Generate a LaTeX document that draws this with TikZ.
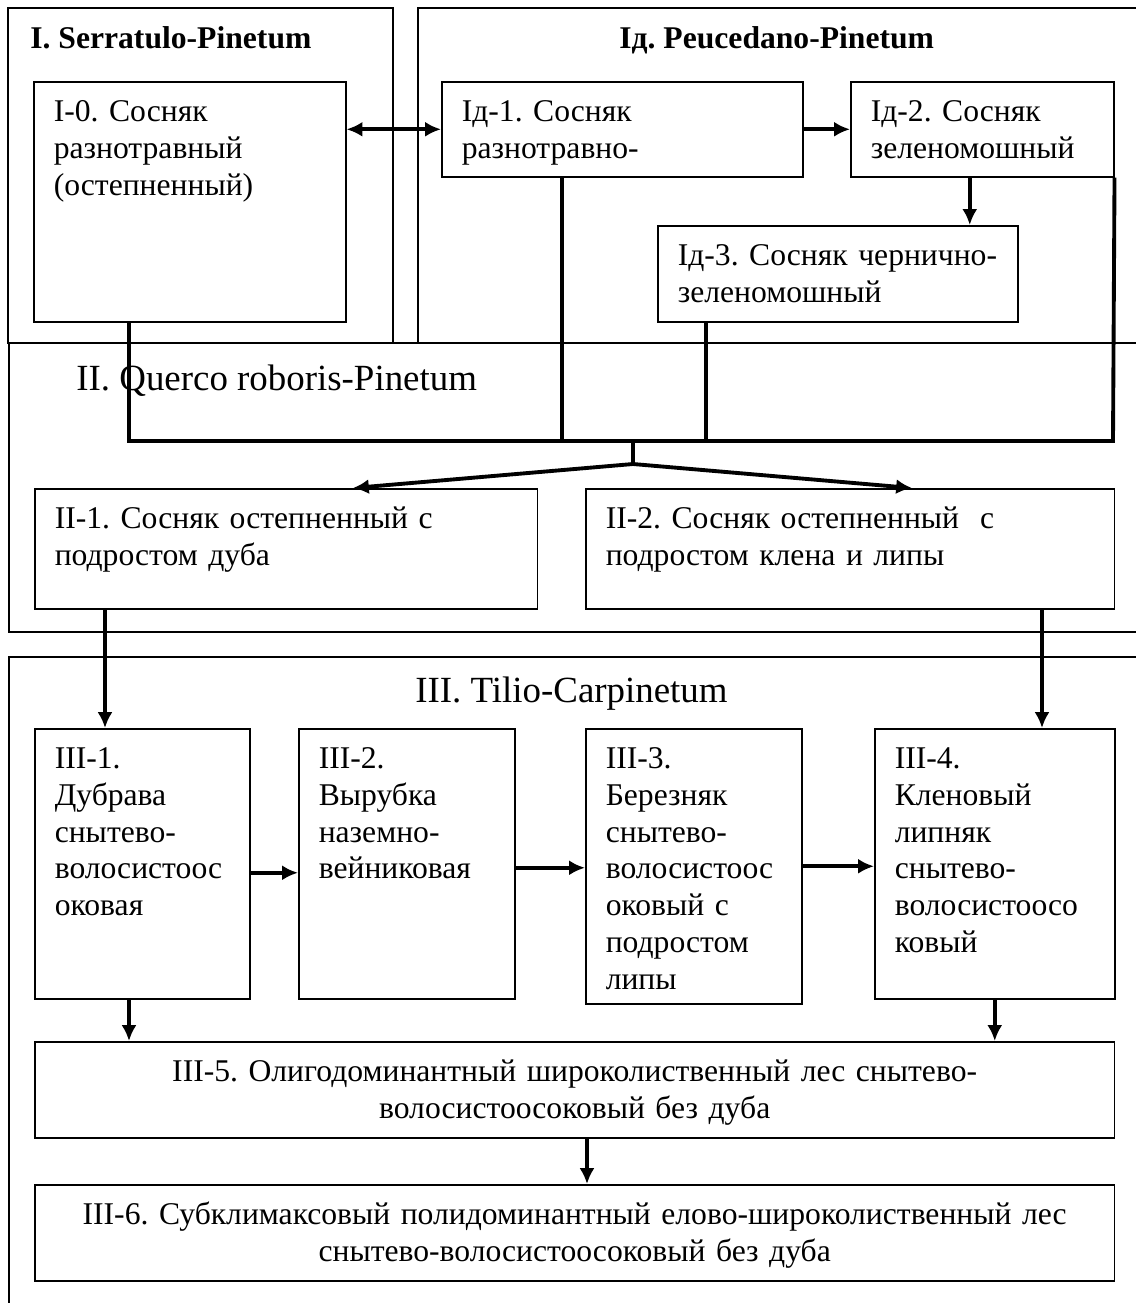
\documentclass[tikz,border=0pt]{standalone}
\usepackage{fontspec}
\setmainfont{Liberation Serif}
\usetikzlibrary{arrows.meta}
\frenchspacing

\begin{document}
\begin{tikzpicture}[x=0.02cm, y=-0.02cm,
	>={Latex[length=9pt,width=8.5pt]},
	zone/.style={draw, line width=0.9pt},
	box/.style 2 args={draw, line width=0.9pt, anchor=north west, inner xsep=0.4cm, inner ysep=0pt,
		text height=0.8cm, text width=#1, text depth=#2, align=left, font=\fontsize{18}{20.9}\selectfont},
	cbox/.style 2 args={box={#1}{#2}, align=center},
	title/.style={anchor=base west, inner sep=0pt, font=\fontsize{18}{21}\selectfont\bfseries},
	bigtitle/.style={anchor=base west, inner sep=0pt, font=\fontsize{21}{24}\selectfont},
	conn/.style={line width=2.2pt},
	arr/.style={conn, ->}]
	\useasboundingbox (0,0) rectangle (1136,1303);
	\clip (0,0) rectangle (1136,1303);

	%Associations
	\draw[zone] (8,8) rectangle (393,343);
	\draw[zone] (418,8) rectangle (1150,343);
	\draw[zone] (9,343) rectangle (1150,632);
	\draw[zone] (9,657) rectangle (1150,1320);
	\node[title] (tI) at (30,48) {I. Serratulo-Pinetum};
	\node[title] (tId) at (619,48) {Iд. Peucedano-Pinetum};
	\node[bigtitle] (tII) at (76,390) {II. Querco roboris-Pinetum};
	\node[bigtitle] (tIII) at (415,702) {III. Tilio-Carpinetum};

	%Stages
	\node[box={5.44cm}{4cm}] (b10) at (33,81) {I-0. Сосняк\\разнотравный\\(остепненный)};
	\node[box={6.42cm}{1.1cm}] (b11) at (441,81) {Iд-1. Сосняк\\разнотравно-};
	\node[box={4.46cm}{1.1cm}] (b12) at (850,81) {Iд-2. Сосняк\\зеленомошный};
	\node[box={6.4cm}{1.12cm}] (b13) at (657,225) {Iд-3.~Сосняк~чернично-\\зеленомошный};
	\node[box={9.26cm}{1.6cm}] (b21) at (34,488) {II-1. Сосняк остепненный с\\подростом дуба};
	\node[box={9.78cm}{1.6cm}] (b22) at (585,488) {II-2. Сосняк остепненный~ с\\подростом клена и липы};
	\node[box={3.5cm}{4.6cm}] (b31) at (34,728) {III-1.\\Дубрава\\снытево-\\волосистоос\\оковая};
	\node[box={3.52cm}{4.6cm}] (b32) at (298,728) {III-2.\\Вырубка\\наземно-\\вейниковая};
	\node[box={3.52cm}{4.7cm}] (b33) at (585,728) {III-3.\\Березняк\\снытево-\\волосистоос\\оковый с\\подростом\\липы};
	\node[box={4cm}{4.6cm}] (b34) at (874,728) {III-4.\\Кленовый\\липняк\\снытево-\\волосистоосо\\ковый};
	\node[cbox={20.8cm}{1.12cm}] (b35) at (34,1041) {III-5. Олигодоминантный широколиственный лес снытево-\\волосистоосоковый без дуба};
	\node[cbox={20.8cm}{1.12cm}] (b36) at (34,1184) {III-6. Субклимаксовый полидоминантный елово-широколиственный лес\\снытево-волосистоосоковый без дуба};

	%Bus
	\coordinate (busL) at (129,441);
	\coordinate (busR) at (1113,441);
	\coordinate (bus1) at (562,441);
	\coordinate (bus2) at (706,441);
	\coordinate (fork) at (633,441);
	\coordinate (split) at (633,464);
	\coordinate (in21) at (353,0);
	\coordinate (in22) at (912,0);
	\coordinate (d12) at ([xshift=-0.25cm]b12.south);
	\coordinate (down1) at (105,0);
	\coordinate (down2) at (1042,0);
	\coordinate (down3) at (129,0);
	\coordinate (down4) at (587,0);
	\coordinate (h12) at ([yshift=-0.18cm]b31.east);
	\coordinate (h23) at ([yshift=-0.08cm]b32.east);

	%Transitions
	\draw[conn, <->] (b10.east |- b11.west) -- (b11.west);
	\draw[arr] (b11) -- (b12);
	\draw[arr] (d12) -- (d12 |- b13.north);
	\draw[conn] (b10.south -| busL) -- (busL) -- (busR) -- (b12.south east);
	\draw[conn] (b11.south -| bus1) -- (bus1);
	\draw[conn] (b13.south -| bus2) -- (bus2);
	\draw[conn] (fork) -- (split);
	\draw[arr] (split) -- (b21.north -| in21);
	\draw[arr] (split) -- (b22.north -| in22);
	\draw[arr] (b21.south -| down1) -- (b31.north -| down1);
	\draw[arr] (b22.south -| down2) -- (b34.north -| down2);
	\draw[arr] (h12) -- (h12 -| b32.west);
	\draw[arr] (h23) -- (h23 -| b33.west);
	\draw[arr] (b33.east) -- (b34.west |- b33.east);
	\draw[arr] (b31.south -| down3) -- (b35.north -| down3);
	\draw[arr] (b34.south) -- (b34.south |- b35.north);
	\draw[arr] (b35.south -| down4) -- (b36.north -| down4);
\end{tikzpicture}
\end{document}
